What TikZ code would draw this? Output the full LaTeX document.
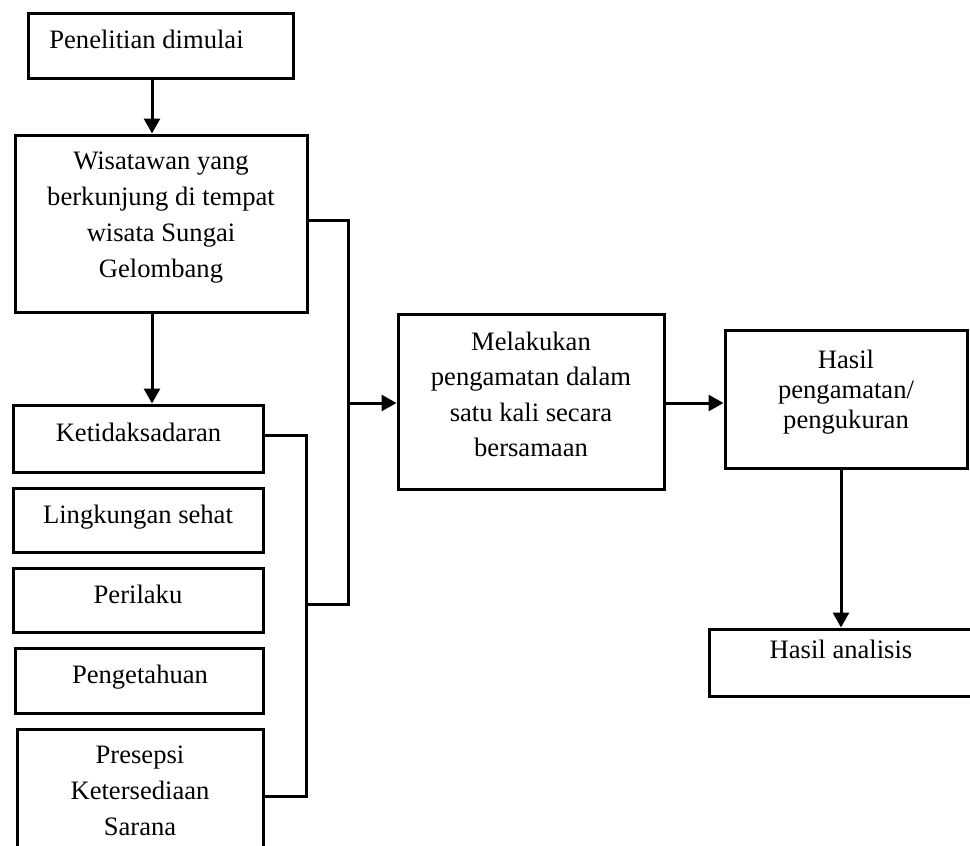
\documentclass[tikz,border=0pt]{standalone}
\usepackage{fontspec}
\setmainfont{Liberation Serif}
\usetikzlibrary{arrows.meta,calc}
\tikzset{
  box/.style={draw, line width=3pt, rectangle, inner sep=0pt},
  txt/.style={inner sep=0pt, anchor=base, font=\fontsize{26.6}{36}\selectfont},
  conn/.style={line width=3pt},
  arr/.style={line width=3pt, -{Triangle[length=15pt,width=16pt]}}
}
\newcommand{\lines}[1]{\begin{tabular}[t]{@{}c@{}}#1\end{tabular}}
\begin{document}
\begin{tikzpicture}[x=1pt,y=-1pt]
\useasboundingbox (0,0) rectangle (970,846);
% boxes
\node[box, minimum width=265pt, minimum height=65pt] (b1) at (160.5,45.5) {};
\node[box, minimum width=292pt, minimum height=177pt] (b2) at (161,223.5) {};
\node[box, minimum width=250pt, minimum height=67pt] (b3) at (138,438.5) {};
\node[box, minimum width=250pt, minimum height=64pt] (b4) at (138,520) {};
\node[box, minimum width=250pt, minimum height=64pt] (b5) at (138,600) {};
\node[box, minimum width=248pt, minimum height=65pt] (b6) at (139,680.5) {};
\node[box, minimum width=246pt, minimum height=141pt] (b7) at (140,799.5) {};
\node[box, minimum width=266pt, minimum height=175pt] (b8) at (531,401.5) {};
\node[box, minimum width=242pt, minimum height=138pt] (b9) at (846,399) {};
\node[box, minimum width=281pt, minimum height=67pt] (b10) at (849.5,662.5) {};
% texts
\node[txt] (t1) at (146.5,48) {Penelitian dimulai};
\node[txt] (t2) at (161,169) {\lines{Wisatawan yang\\berkunjung di tempat\\wisata Sungai\\Gelombang}};
\node[txt] (t3) at (138.5,441) {Ketidaksadaran};
\node[txt] (t4) at (138,523) {Lingkungan sehat};
\node[txt] (t5) at (138,603) {Perilaku};
\node[txt] (t6) at (140,683) {Pengetahuan};
\node[txt] (t7) at (140,763) {\lines{Presepsi\\Ketersediaan\\Sarana}};
\node[txt, font=\fontsize{26.6}{35.5}\selectfont] (t8) at (531,350) {\lines{Melakukan\\pengamatan dalam\\satu kali secara\\bersamaan}};
\node[txt, font=\fontsize{26.6}{30}\selectfont] (t9) at (846,368) {\lines{Hasil\\pengamatan/\\pengukuran}};
\node[txt] (t10) at (841,658) {Hasil analisis};
% junction points
\coordinate (v) at (152,0);
\coordinate (h) at (841,0);
\coordinate (j1) at (348,220);
\coordinate (j2) at (348,604);
\coordinate (m) at (348,403);
\coordinate (k1) at (306,435);
\coordinate (k2) at (306,796);
\coordinate (k3) at (306,604);
% connectors
\draw[arr] (b1.south -| v) -- (b2.north -| v);
\draw[arr] (b2.south -| v) -- (b3.north -| v);
\draw[conn] (b2.east |- j1) -- (j1) -- (j2) -- (k3);
\draw[conn] (b3.east |- k1) -- (k1) -- (k2) -- (b7.east |- k2);
\draw[arr] (m) -- (m -| b8.west);
\draw[arr] (b8.east |- m) -- (b9.west |- m);
\draw[arr] (b9.south -| h) -- (b10.north -| h);
\end{tikzpicture}
\end{document}
